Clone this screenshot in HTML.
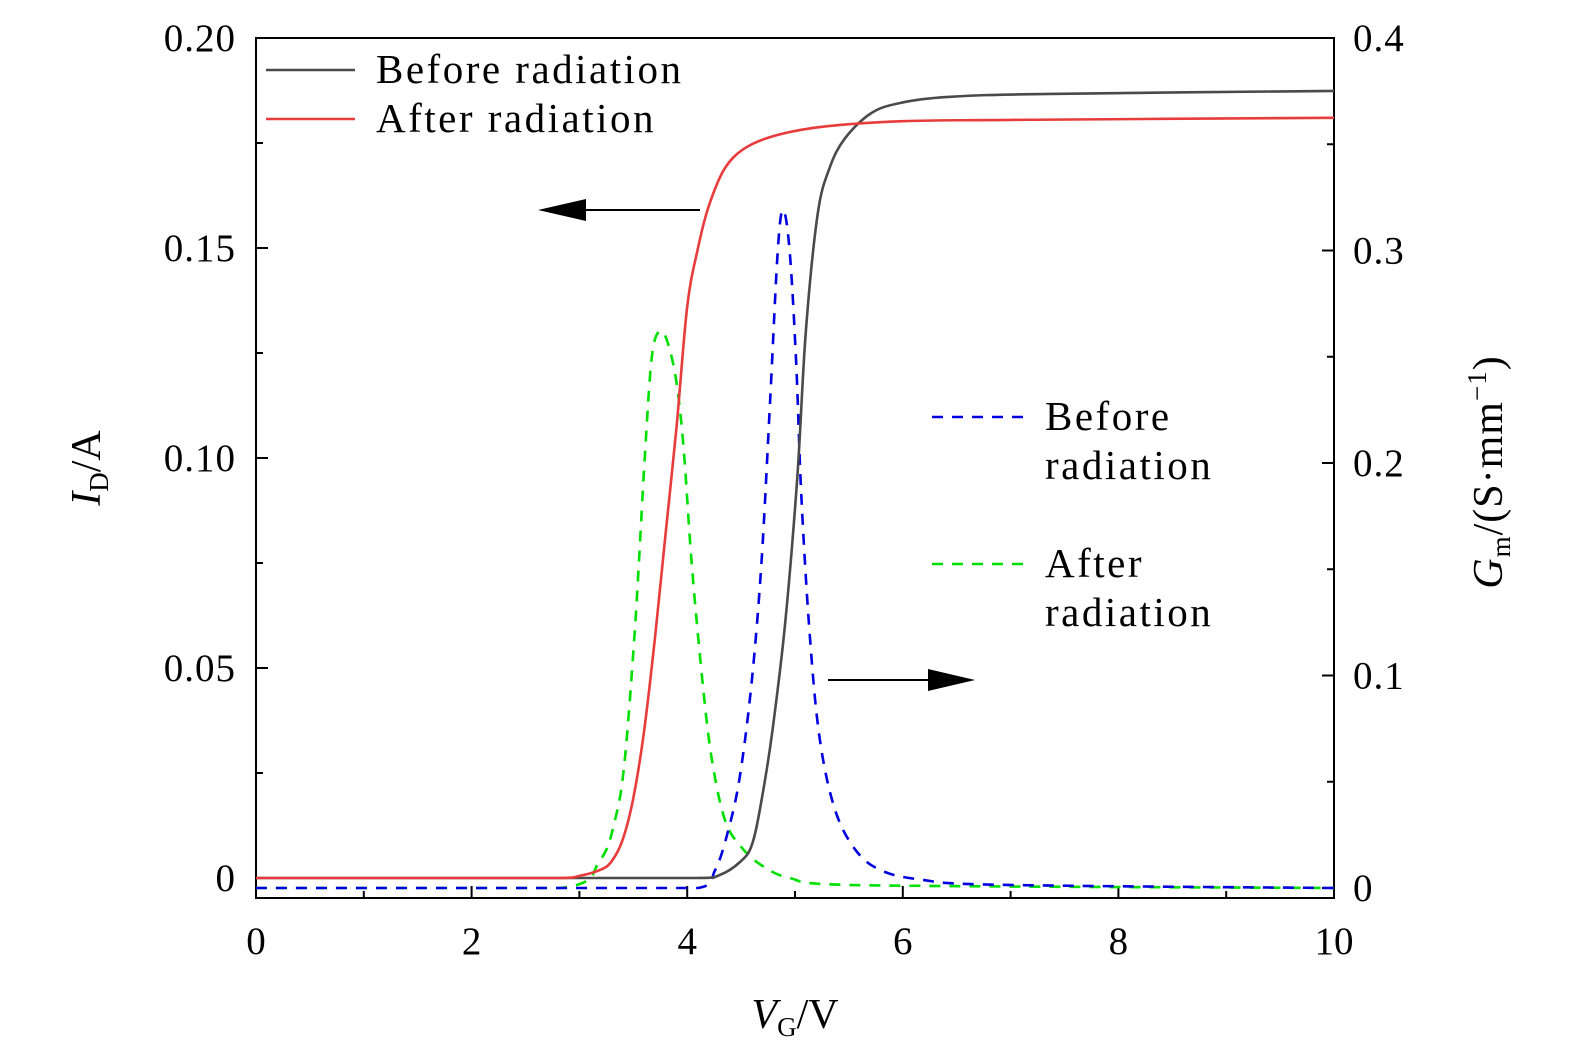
<!DOCTYPE html>
<html><head><meta charset="utf-8"><style>
html,body{margin:0;padding:0;background:#fff;}
svg{display:block;font-family:"Liberation Serif",serif;}
</style></head><body>
<svg id="chart" width="1575" height="1063"></svg>
<script>
// Data arrays
const xTicks = [0,2,4,6,8,10];
const leftTicks = [0,0.05,0.10,0.15,0.20];
const leftTickLabels = ["0","0.05","0.10","0.15","0.20"];
const rightTicks = [0,0.1,0.2,0.3,0.4];
const rightTickLabels = ["0","0.1","0.2","0.3","0.4"];

const idBeforeV = [0,4.1,4.3,4.49,4.6,4.69,4.79,4.91,5.02,5.1,5.21,5.32,5.46,5.7,5.97,6.44,7.37,10];
const idBeforeI = [0,0,0.0007,0.0038,0.0079,0.0186,0.035,0.061,0.095,0.130,0.158,0.169,0.176,0.182,0.1845,0.186,0.1867,0.1874];
const idAfterV = [0,2.8,3.0,3.2,3.3,3.4,3.5,3.6,3.7,3.8,3.9,4.0,4.1,4.2,4.35,4.55,4.85,5.3,6,7,10];
const idAfterI = [0,0,0.0005,0.002,0.004,0.009,0.019,0.035,0.057,0.082,0.107,0.136,0.150,0.160,0.169,0.174,0.177,0.179,0.1802,0.1805,0.181];
const gmBeforeV = [0,4.1,4.26,4.38,4.49,4.6,4.69,4.77,4.84,4.89,4.95,5.01,5.06,5.14,5.23,5.37,5.56,5.79,6.16,6.9,10];
const gmBeforeG = [0,0,0.0085,0.027,0.053,0.098,0.154,0.23,0.30,0.319,0.30,0.248,0.183,0.117,0.070,0.037,0.018,0.0085,0.004,0.0015,0];
const gmAfterV = [0,2.82,3.19,3.33,3.42,3.52,3.61,3.68,3.77,3.88,3.96,4.04,4.14,4.23,4.35,4.49,4.68,4.95,5.51,10];
const gmAfterG = [0,0,0.013,0.032,0.060,0.126,0.206,0.253,0.262,0.244,0.211,0.154,0.098,0.060,0.032,0.020,0.011,0.0047,0.0014,0];

const NS="http://www.w3.org/2000/svg";
const svg=document.getElementById('chart');
const X0=256,X1=1334,YT=38,YB=898;
const xs=v=>X0+v/10*(X1-X0);
const yl=v=>878-v*4200;
const yr=v=>888-v*2125;
function mk(tag,attrs,parent){const e=document.createElementNS(NS,tag);for(const k in attrs)e.setAttribute(k,attrs[k]);(parent||svg).appendChild(e);return e;}

const frame=mk('rect',{x:X0,y:YT,width:X1-X0,height:YB-YT,fill:'none',stroke:'#000','stroke-width':2});



for(let v=0;v<=10;v+=1){
  const major=v%2===0;
  const t=mk('line',{x1:xs(v),x2:xs(v),y1:YB,y2:YB-(major?12:7),stroke:'#000','stroke-width':2});
  
  
}
xTicks.forEach(v=>{
  const t=mk('text',{x:xs(v),y:954,'text-anchor':'middle','font-size':39});
  t.textContent=String(v);
  
  
});
for(let i=0;i<=8;i++){
  const v=i*0.025;const major=i%2===0;
  const t=mk('line',{x1:X0,x2:X0+(major?12:7),y1:yl(v),y2:yl(v),stroke:'#000','stroke-width':2});
  
  
}
leftTicks.forEach((v,i)=>{
  const t=mk('text',{x:236,y:yl(v)+13,'text-anchor':'end','font-size':39,'letter-spacing':'1'});
  t.textContent=leftTickLabels[i];
  
  
});
for(let i=0;i<=8;i++){
  const v=i*0.05;const major=i%2===0;
  const t=mk('line',{x1:X1,x2:X1-(major?12:7),y1:yr(v),y2:yr(v),stroke:'#000','stroke-width':2});
  
  
}
rightTicks.forEach((v,i)=>{
  const t=mk('text',{x:1353,y:yr(v)+13,'text-anchor':'start','font-size':39,'letter-spacing':'1'});
  t.textContent=rightTickLabels[i];
  
  
});

function clamp(v,a,b){const lo=Math.min(a,b),hi=Math.max(a,b);return Math.min(hi,Math.max(lo,v));}
function series(V,Y,yf,color,dash,name){
  const P=V.map((v,i)=>[xs(v),yf(Y[i])]);
  let d='M'+P[0][0].toFixed(1)+','+P[0][1].toFixed(1);
  for(let i=0;i<P.length-1;i++){
    const p0=P[Math.max(0,i-1)],p1=P[i],p2=P[i+1],p3=P[Math.min(P.length-1,i+2)];
    const c1=[p1[0]+(p2[0]-p0[0])/6,p1[1]+(p2[1]-p0[1])/6];
    const c2=[p2[0]-(p3[0]-p1[0])/6,p2[1]-(p3[1]-p1[1])/6];
    c1[0]=clamp(c1[0],p1[0],p2[0]);c2[0]=clamp(c2[0],p1[0],p2[0]);
    c1[1]=clamp(c1[1],p1[1],p2[1]);c2[1]=clamp(c2[1],p1[1],p2[1]);
    d+=' C'+c1.map(n=>n.toFixed(1)).join(',')+' '+c2.map(n=>n.toFixed(1)).join(',')+' '+p2[0].toFixed(1)+','+p2[1].toFixed(1);
  }
  const p=mk('path',{d:d,fill:'none',stroke:color,'stroke-width':2.6,'stroke-linejoin':'round'});
  if(dash)p.setAttribute('stroke-dasharray',dash);
  
  
}
series(gmAfterV,gmAfterG,yr,'#00e000','11 9','gm-after-line');
series(gmBeforeV,gmBeforeG,yr,'#0000e0','11 9','gm-before-line');
series(idBeforeV,idBeforeI,yl,'#4a4a4a',null,'id-before-line');
series(idAfterV,idAfterI,yl,'#e83c3c',null,'id-after-line');

const a1=mk('g',{});
mk('line',{x1:700,y1:210,x2:580,y2:210,stroke:'#000','stroke-width':2},a1);
mk('polygon',{points:'538,210 586,199 586,221',fill:'#000'},a1);
const a2=mk('g',{});
mk('line',{x1:828,y1:680,x2:935,y2:680,stroke:'#000','stroke-width':2},a2);
mk('polygon',{points:'975,680 928,669 928,691',fill:'#000'},a2);

function legItem(y,color,dash,lines,tx,lx1,lx2,name){
  const g=mk('g',{});
  const l=mk('line',{x1:lx1,x2:lx2,y1:y,y2:y,stroke:color,'stroke-width':2.6},g);
  if(dash)l.setAttribute('stroke-dasharray',dash);
  lines.forEach((s,i)=>{const t=mk('text',{x:tx,y:y+13+i*49,'font-size':41,'letter-spacing':'2.5'},g);t.textContent=s;});
}
legItem(70,'#4a4a4a',null,['Before radiation'],376,266,355,'legend-id-before');
legItem(119,'#e83c3c',null,['After radiation'],376,266,355,'legend-id-after');
legItem(417,'#0000e0','11 9',['Before','radiation'],1045,932,1025,'legend-gm-before');
legItem(564,'#00e000','11 9',['After','radiation'],1045,932,1025,'legend-gm-after');

const xt=mk('text',{x:795,y:1028,'text-anchor':'middle','font-size':42});
xt.innerHTML='<tspan font-style="italic">V</tspan><tspan font-size="27" dy="8">G</tspan><tspan dy="-8">/V</tspan>';

const ytl=mk('text',{x:0,y:0,'text-anchor':'middle','font-size':42,transform:'translate(100,468) rotate(-90)'});
ytl.innerHTML='<tspan font-style="italic">I</tspan><tspan font-size="27" dy="8">D</tspan><tspan dy="-8">/A</tspan>';

const ytr=mk('text',{x:0,y:0,'text-anchor':'middle','font-size':42,'letter-spacing':'1',transform:'translate(1502,472) rotate(-90)'});
ytr.innerHTML='<tspan font-style="italic">G</tspan><tspan font-size="27" dy="8">m</tspan><tspan dy="-8">/(S·mm</tspan><tspan font-size="27" dy="-16">−1</tspan><tspan dy="16">)</tspan>';

</script>
</body></html>
